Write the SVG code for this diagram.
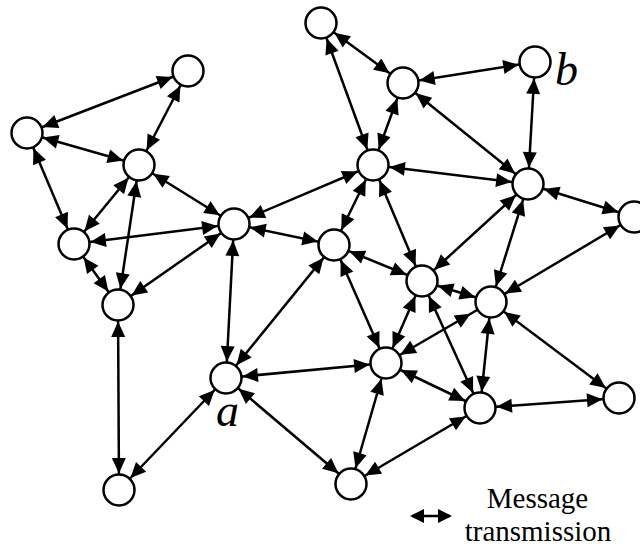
<svg xmlns="http://www.w3.org/2000/svg" width="640" height="548" viewBox="0 0 640 548">
  <style>
    .edge { stroke: #000; stroke-width: 2.5; fill: none; marker-start: url(#tip); marker-end: url(#tip); }
    .node circle { fill: #fff; stroke: #000; stroke-width: 2.5; }
  </style>
  <defs>
    <!-- arrowhead drawn back from the path end so its tip sits on the node outline -->
    <marker id="tip" markerUnits="userSpaceOnUse" orient="auto-start-reverse" refX="0" refY="0"
            markerWidth="1" markerHeight="1" overflow="visible">
      <path d="M -16.5 0 L -32 -7 L -32 7 Z" fill="#000"/>
    </marker>
    <marker id="tipLegend" markerUnits="userSpaceOnUse" orient="auto-start-reverse" refX="0" refY="0"
            markerWidth="1" markerHeight="1" overflow="visible">
      <path d="M 2 0 L -12 -7 L -12 7 Z" fill="#000"/>
    </marker>
  </defs>
  <rect width="640" height="548" fill="#fff"/>

  <g id="connectors">
    <line class="edge" x1="188" y1="71" x2="27" y2="133"/>
    <line class="edge" x1="188" y1="71" x2="139" y2="165"/>
    <line class="edge" x1="27" y1="133" x2="139" y2="165"/>
    <line class="edge" x1="27" y1="133" x2="74" y2="244"/>
    <line class="edge" x1="139" y1="165" x2="74" y2="244"/>
    <line class="edge" x1="139" y1="165" x2="118" y2="305"/>
    <line class="edge" x1="139" y1="165" x2="234" y2="224"/>
    <line class="edge" x1="74" y1="244" x2="118" y2="305"/>
    <line class="edge" x1="74" y1="244" x2="234" y2="224"/>
    <line class="edge" x1="118" y1="305" x2="234" y2="224"/>
    <line class="edge" x1="118" y1="305" x2="119" y2="490"/>
    <line class="edge" x1="234" y1="224" x2="334" y2="245"/>
    <line class="edge" x1="234" y1="224" x2="226" y2="378"/>
    <line class="edge" x1="234" y1="224" x2="373" y2="165"/>
    <line class="edge" x1="334" y1="245" x2="226" y2="378"/>
    <line class="edge" x1="334" y1="245" x2="373" y2="165"/>
    <line class="edge" x1="334" y1="245" x2="422" y2="281"/>
    <line class="edge" x1="334" y1="245" x2="386" y2="363"/>
    <line class="edge" x1="226" y1="378" x2="119" y2="490"/>
    <line class="edge" x1="226" y1="378" x2="351" y2="484"/>
    <line class="edge" x1="226" y1="378" x2="386" y2="363"/>
    <line class="edge" x1="321" y1="23" x2="403" y2="83"/>
    <line class="edge" x1="321" y1="23" x2="373" y2="165"/>
    <line class="edge" x1="403" y1="83" x2="535" y2="62"/>
    <line class="edge" x1="403" y1="83" x2="373" y2="165"/>
    <line class="edge" x1="403" y1="83" x2="528" y2="184"/>
    <line class="edge" x1="535" y1="62" x2="528" y2="184"/>
    <line class="edge" x1="373" y1="165" x2="528" y2="184"/>
    <line class="edge" x1="373" y1="165" x2="422" y2="281"/>
    <line class="edge" x1="528" y1="184" x2="634" y2="217"/>
    <line class="edge" x1="528" y1="184" x2="422" y2="281"/>
    <line class="edge" x1="528" y1="184" x2="491" y2="302"/>
    <line class="edge" x1="634" y1="217" x2="491" y2="302"/>
    <line class="edge" x1="422" y1="281" x2="491" y2="302"/>
    <line class="edge" x1="422" y1="281" x2="386" y2="363"/>
    <line class="edge" x1="422" y1="281" x2="480" y2="408"/>
    <line class="edge" x1="386" y1="363" x2="484.9" y2="305.5"/>
    <line class="edge" x1="491" y1="302" x2="480" y2="408"/>
    <line class="edge" x1="491" y1="302" x2="619" y2="398"/>
    <line class="edge" x1="386" y1="363" x2="351" y2="484"/>
    <line class="edge" x1="386" y1="363" x2="480" y2="408"/>
    <line class="edge" x1="480" y1="408" x2="351" y2="484"/>
    <line class="edge" x1="480" y1="408" x2="619" y2="398"/>
  </g>

  <g id="nodes">
    <g id="node-1" class="node"><circle cx="188" cy="71" r="15.5"/></g>
    <g id="node-2" class="node"><circle cx="27" cy="133" r="15.5"/></g>
    <g id="node-3" class="node"><circle cx="139" cy="165" r="15.5"/></g>
    <g id="node-4" class="node"><circle cx="74" cy="244" r="15.5"/></g>
    <g id="node-5" class="node"><circle cx="118" cy="305" r="15.5"/></g>
    <g id="node-6" class="node"><circle cx="234" cy="224" r="15.5"/></g>
    <g id="node-7" class="node"><circle cx="334" cy="245" r="15.5"/></g>
    <g id="node-a" class="node"><circle cx="226" cy="378" r="15.5"/>
      <text x="216" y="426" font-family="Liberation Serif, serif" font-style="italic" font-size="46">a</text></g>
    <g id="node-9" class="node"><circle cx="119" cy="490" r="15.5"/></g>
    <g id="node-10" class="node"><circle cx="351" cy="484" r="15.5"/></g>
    <g id="node-11" class="node"><circle cx="321" cy="23" r="15.5"/></g>
    <g id="node-12" class="node"><circle cx="403" cy="83" r="15.5"/></g>
    <g id="node-b" class="node"><circle cx="535" cy="62" r="15.5"/>
      <text x="555" y="85" font-family="Liberation Serif, serif" font-style="italic" font-size="46">b</text></g>
    <g id="node-14" class="node"><circle cx="373" cy="165" r="15.5"/></g>
    <g id="node-15" class="node"><circle cx="528" cy="184" r="15.5"/></g>
    <g id="node-16" class="node"><circle cx="634" cy="217" r="15.5"/></g>
    <g id="node-17" class="node"><circle cx="422" cy="281" r="15.5"/></g>
    <g id="node-18" class="node"><circle cx="491" cy="302" r="15.5"/></g>
    <g id="node-19" class="node"><circle cx="386" cy="363" r="15.5"/></g>
    <g id="node-20" class="node"><circle cx="480" cy="408" r="15.5"/></g>
    <g id="node-21" class="node"><circle cx="619" cy="398" r="15.5"/></g>
  </g>

  <g id="legend">
    <line x1="412" y1="516" x2="450" y2="516" stroke="#000" stroke-width="2.5"
          marker-start="url(#tipLegend)" marker-end="url(#tipLegend)"/>
    <text x="537.5" y="508" font-family="Liberation Serif, serif" font-size="29" text-anchor="middle">Message</text>
    <text x="538" y="541" font-family="Liberation Serif, serif" font-size="29" text-anchor="middle">transmission</text>
  </g>
</svg>
